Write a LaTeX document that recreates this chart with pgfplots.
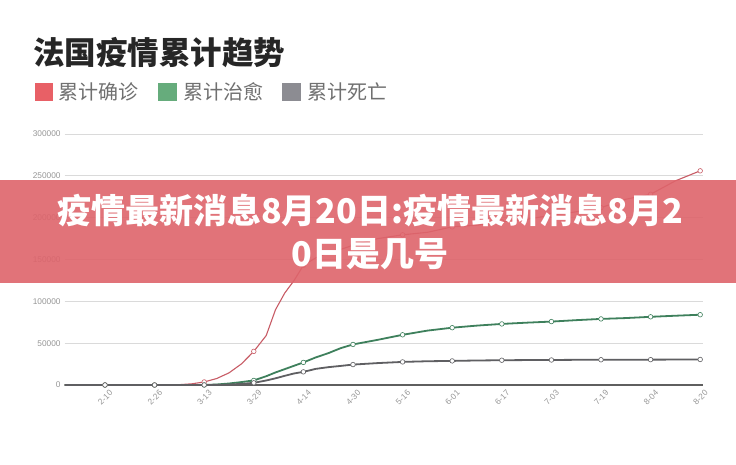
\documentclass[border=0pt]{standalone}
\usepackage{fontspec}
\setmainfont{Liberation Sans}
\newfontfamily\cjk{Noto Sans CJK SC}
\usepackage{pgfplots}
\usepackage{pgfplotstable}
\pgfplotsset{compat=1.18}

\definecolor{confline}{RGB}{200,92,102}
\definecolor{cureline}{RGB}{62,128,92}
\definecolor{deadline}{RGB}{95,95,98}
\definecolor{confkey}{RGB}{232,96,102}
\definecolor{curekey}{RGB}{102,172,124}
\definecolor{deadkey}{RGB}{140,140,146}
\definecolor{gridgray}{RGB}{218,218,218}
\definecolor{axisgray}{RGB}{95,95,95}
\definecolor{ticktext}{RGB}{150,150,150}
\definecolor{keytext}{RGB}{112,112,112}
\definecolor{banner}{RGB}{222,100,107}

% day = days since 2-10
\pgfplotstableread{
day conf cured dead
-13 0 0 0
0 11 0 0
16 18 0 0
20 130 0 0
24 420 0 0
28 1400 0 10
32 3660 12 80
36 7700 600 150
40 14500 1800 560
44 25200 3500 1330
48 40200 5500 2600
52 59100 10500 5400
55 90000 15000 8000
58 110000 19000 11000
61 125000 23000 13800
64 143000 27000 15700
68 152000 33000 19300
72 158000 38000 21300
76 162000 44000 22800
80 167000 48500 24400
88 175000 54000 26200
96 179500 60000 27600
104 182500 65000 28400
112 189000 68500 28800
120 191000 71000 29300
128 195000 73000 29600
136 198000 74500 29800
144 203000 75800 29900
152 207000 77500 30100
160 212000 79000 30200
168 222000 80000 30250
176 228000 81500 30300
184 244000 82800 30400
192 256000 84000 30500
}\trend

\pgfplotstableread{
day conf cured dead
0 11 0 0
16 18 0 0
32 3660 12 80
48 40200 5500 2600
64 143000 27000 15700
80 167000 48500 24400
96 179500 60000 27600
112 189000 68500 28800
128 195000 73000 29600
144 203000 75800 29900
160 212000 79000 30200
176 228000 81500 30300
192 256000 84000 30500
}\marks

\begin{document}
\begin{tikzpicture}
\path[use as bounding box] (0pt,0pt) rectangle (736pt,464pt);
\fill[white] (0pt,0pt) rectangle (736pt,464pt);

\begin{axis}[
    at={(64.7pt,79pt)}, anchor=south west,
    scale only axis,
    width=638.6pt, height=251pt,
    xmin=-13, xmax=193, ymin=0, ymax=300000,
    axis lines=left,
    axis line style={-},
    y axis line style={draw=none},
    x axis line style={draw=axisgray, line width=1.3pt},
    major tick length=0pt,
    ytick={0,50000,...,300000},
    scaled y ticks=false,
    yticklabel style={/pgf/number format/fixed,
        /pgf/number format/1000 sep={}, anchor=east, inner sep=0pt, xshift=-4pt},
    xtick={0,16,...,192},
    xticklabels={2-10,2-26,3-13,3-29,4-14,4-30,5-16,6-01,6-17,7-03,7-19,8-04,8-20},
    xticklabel style={rotate=45, anchor=east, inner sep=0pt, yshift=-9pt, xshift=0pt},
    tick label style={font=\fontsize{8.3}{9}\selectfont, text=ticktext},
    /pgf/number format/assume math mode=true,
    ymajorgrids,
    grid style={draw=gridgray, line width=0.8pt},
    clip=false,
]
\addplot[confline, line width=1.1pt, line join=round] table[x=day, y=conf] {\trend};
\addplot[cureline, line width=1.8pt, line join=round] table[x=day, y=cured] {\trend};
\addplot[deadline, line width=1.8pt, line join=round] table[x=day, y=dead] {\trend};

\addplot[only marks, mark=*, mark size=2.3pt, mark options={fill=white, draw=confline, line width=0.6pt}] table[x=day, y=conf] {\marks};
\addplot[only marks, mark=*, mark size=2.3pt, mark options={fill=white, draw=cureline, line width=0.6pt}] table[x=day, y=cured] {\marks};
\addplot[only marks, mark=*, mark size=2.3pt, mark options={fill=white, draw=deadline, line width=0.6pt}] table[x=day, y=dead] {\marks};
\end{axis}

% title and key
\node[anchor=west, inner sep=0pt, text={rgb,255:red,38;green,38;blue,38},
  font=\fontsize{31.5}{35}\selectfont\cjk\bfseries]
  at (33pt,411pt) {法国疫情累计趋势};
\fill[confkey] (35pt,363pt) rectangle (53pt,381pt);
\node[anchor=west, inner sep=0pt, text=keytext, font=\fontsize{20}{22}\selectfont\cjk] at (58pt,372pt) {累计确诊};
\fill[curekey] (158pt,363pt) rectangle (177pt,381pt);
\node[anchor=west, inner sep=0pt, text=keytext, font=\fontsize{20}{22}\selectfont\cjk] at (183pt,372pt) {累计治愈};
\fill[deadkey] (282pt,363pt) rectangle (301pt,381pt);
\node[anchor=west, inner sep=0pt, text=keytext, font=\fontsize{20}{22}\selectfont\cjk] at (307pt,372pt) {累计死亡};

% overlay banner
\fill[banner, fill opacity=0.9] (0pt,181pt) rectangle (736pt,284pt);
\node[align=center, text=white, inner sep=0pt,
  font=\fontsize{34}{43}\selectfont\cjk\bfseries] at (370pt,232pt)
  {疫情最新消息8月20日:疫情最新消息8月2\\0日是几号};
\end{tikzpicture}
\end{document}
